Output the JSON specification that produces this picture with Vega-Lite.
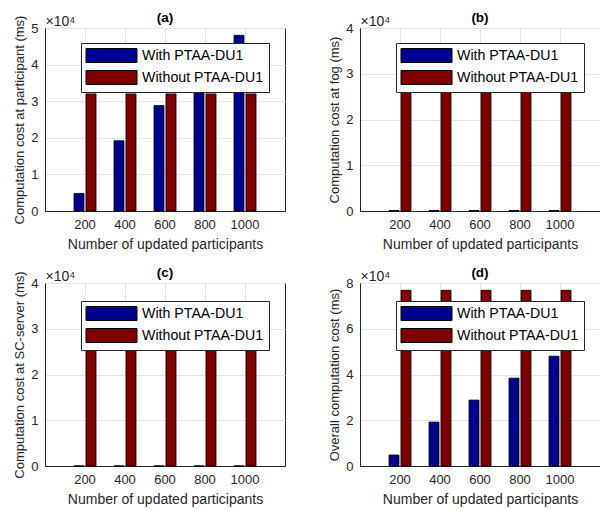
{
  "$schema": "https://vega.github.io/schema/vega-lite/v6.json",
  "padding": {"left": 13, "top": 10, "right": 0, "bottom": 0},
  "config": {
    "font": "Liberation Sans",
    "view": {"stroke": "#262626", "strokeWidth": 1},
    "axis": {
      "domainColor": "#262626",
      "labelColor": "#262626",
      "titleColor": "#262626",
      "labelFontSize": 13,
      "titleFontWeight": "normal",
      "ticks": false,
      "gridColor": "#e3e3e3",
      "gridWidth": 1
    },
    "axisX": {"titleFontSize": 14, "labelPadding": 7, "titlePadding": 6},
    "axisY": {"titleFontSize": 13, "labelPadding": 7, "titlePadding": 4},
    "legend": {
      "orient": "none",
      "legendX": 36,
      "legendY": 15,
      "direction": "vertical",
      "title": null,
      "strokeColor": "#262626",
      "fillColor": "#ffffff",
      "padding": 5,
      "symbolType": "M-3.643,-1H3.643V1H-3.643Z",
      "symbolSize": 196,
      "symbolOffset": 18,
      "symbolStrokeColor": "#000000",
      "symbolStrokeWidth": 1,
      "symbolOpacity": 1,
      "labelFontSize": 14.2,
      "labelColor": "#000000",
      "labelLimit": 0,
      "labelOffset": 23,
      "rowPadding": 3
    },
    "title": {"fontSize": 13.5, "fontWeight": "bold", "color": "#000000", "anchor": "middle", "frame": "group", "offset": -10}
  },
  "data": {
    "values": [
      {"panel": "a", "n": 200, "series": "With PTAA-DU1", "value": 4800},
      {"panel": "a", "n": 400, "series": "With PTAA-DU1", "value": 19200},
      {"panel": "a", "n": 600, "series": "With PTAA-DU1", "value": 28800},
      {"panel": "a", "n": 800, "series": "With PTAA-DU1", "value": 38400},
      {"panel": "a", "n": 1000, "series": "With PTAA-DU1", "value": 48000},
      {"panel": "a", "n": 200, "series": "Without PTAA-DU1", "value": 32000},
      {"panel": "a", "n": 400, "series": "Without PTAA-DU1", "value": 32000},
      {"panel": "a", "n": 600, "series": "Without PTAA-DU1", "value": 32000},
      {"panel": "a", "n": 800, "series": "Without PTAA-DU1", "value": 32000},
      {"panel": "a", "n": 1000, "series": "Without PTAA-DU1", "value": 32000},
      {"panel": "b", "n": 200, "series": "With PTAA-DU1", "value": 100},
      {"panel": "b", "n": 400, "series": "With PTAA-DU1", "value": 100},
      {"panel": "b", "n": 600, "series": "With PTAA-DU1", "value": 100},
      {"panel": "b", "n": 800, "series": "With PTAA-DU1", "value": 100},
      {"panel": "b", "n": 1000, "series": "With PTAA-DU1", "value": 100},
      {"panel": "b", "n": 200, "series": "Without PTAA-DU1", "value": 32000},
      {"panel": "b", "n": 400, "series": "Without PTAA-DU1", "value": 32000},
      {"panel": "b", "n": 600, "series": "Without PTAA-DU1", "value": 32000},
      {"panel": "b", "n": 800, "series": "Without PTAA-DU1", "value": 32000},
      {"panel": "b", "n": 1000, "series": "Without PTAA-DU1", "value": 32000},
      {"panel": "c", "n": 200, "series": "With PTAA-DU1", "value": 30},
      {"panel": "c", "n": 400, "series": "With PTAA-DU1", "value": 30},
      {"panel": "c", "n": 600, "series": "With PTAA-DU1", "value": 30},
      {"panel": "c", "n": 800, "series": "With PTAA-DU1", "value": 30},
      {"panel": "c", "n": 1000, "series": "With PTAA-DU1", "value": 30},
      {"panel": "c", "n": 200, "series": "Without PTAA-DU1", "value": 32000},
      {"panel": "c", "n": 400, "series": "Without PTAA-DU1", "value": 32000},
      {"panel": "c", "n": 600, "series": "Without PTAA-DU1", "value": 32000},
      {"panel": "c", "n": 800, "series": "Without PTAA-DU1", "value": 32000},
      {"panel": "c", "n": 1000, "series": "Without PTAA-DU1", "value": 32000},
      {"panel": "d", "n": 200, "series": "With PTAA-DU1", "value": 4800},
      {"panel": "d", "n": 400, "series": "With PTAA-DU1", "value": 19200},
      {"panel": "d", "n": 600, "series": "With PTAA-DU1", "value": 28800},
      {"panel": "d", "n": 800, "series": "With PTAA-DU1", "value": 38400},
      {"panel": "d", "n": 1000, "series": "With PTAA-DU1", "value": 48000},
      {"panel": "d", "n": 200, "series": "Without PTAA-DU1", "value": 76800},
      {"panel": "d", "n": 400, "series": "Without PTAA-DU1", "value": 76800},
      {"panel": "d", "n": 600, "series": "Without PTAA-DU1", "value": 76800},
      {"panel": "d", "n": 800, "series": "Without PTAA-DU1", "value": 76800},
      {"panel": "d", "n": 1000, "series": "Without PTAA-DU1", "value": 76800}
    ]
  },
  "columns": 2,
  "spacing": {"row": 72, "column": 75},
  "bounds": "flush",
  "resolve": {"scale": {"x": "independent", "y": "independent", "color": "independent"}, "legend": {"color": "independent"}},
  "concat": [
    {
      "width": 240, "height": 183,
      "title": "(a)",
      "transform": [{"filter": "datum.panel === 'a'"}],
      "layer": [
        {
          "mark": {"type": "bar", "stroke": "#000000", "strokeWidth": 0.8},
          "encoding": {
            "x": {"field": "n", "type": "ordinal", "scale": {"paddingInner": 0.45, "paddingOuter": 0.725}, "axis": {"orient": "bottom", "title": "Number of updated participants", "grid": true, "bandPosition": 0.5, "labelAngle": 0}},
            "xOffset": {"field": "series", "type": "nominal", "sort": ["With PTAA-DU1", "Without PTAA-DU1"], "scale": {"paddingInner": 0.1667, "paddingOuter": 0}},
            "y": {"field": "value", "type": "quantitative", "scale": {"domain": [0, 50000], "nice": false}, "axis": {"title": "Computation cost at participant (ms)", "values": [0, 10000, 20000, 30000, 40000, 50000], "labelExpr": "datum.value / 10000", "grid": true}},
            "color": {"field": "series", "type": "nominal", "scale": {"domain": ["With PTAA-DU1", "Without PTAA-DU1"], "range": ["#00008F", "#800000"]}}
          }
        },
        {
          "mark": {"type": "rule", "opacity": 0},
          "encoding": {
            "x": {"field": "n", "type": "ordinal", "axis": {"orient": "top", "title": "×10⁴", "titleFontSize": 14, "titleAnchor": "start", "titleAlign": "left", "titlePadding": 0, "labels": false, "domain": false, "grid": false}}
          }
        }
      ],
      "resolve": {"axis": {"x": "independent"}}
    },
    {
      "width": 240, "height": 183,
      "title": "(b)",
      "transform": [{"filter": "datum.panel === 'b'"}],
      "layer": [
        {
          "mark": {"type": "bar", "stroke": "#000000", "strokeWidth": 0.8},
          "encoding": {
            "x": {"field": "n", "type": "ordinal", "scale": {"paddingInner": 0.45, "paddingOuter": 0.725}, "axis": {"orient": "bottom", "title": "Number of updated participants", "grid": true, "bandPosition": 0.5, "labelAngle": 0}},
            "xOffset": {"field": "series", "type": "nominal", "sort": ["With PTAA-DU1", "Without PTAA-DU1"], "scale": {"paddingInner": 0.1667, "paddingOuter": 0}},
            "y": {"field": "value", "type": "quantitative", "scale": {"domain": [0, 40000], "nice": false}, "axis": {"title": "Computation cost at fog (ms)", "values": [0, 10000, 20000, 30000, 40000], "labelExpr": "datum.value / 10000", "grid": true}},
            "color": {"field": "series", "type": "nominal", "scale": {"domain": ["With PTAA-DU1", "Without PTAA-DU1"], "range": ["#00008F", "#800000"]}}
          }
        },
        {
          "mark": {"type": "rule", "opacity": 0},
          "encoding": {
            "x": {"field": "n", "type": "ordinal", "axis": {"orient": "top", "title": "×10⁴", "titleFontSize": 14, "titleAnchor": "start", "titleAlign": "left", "titlePadding": 0, "labels": false, "domain": false, "grid": false}}
          }
        }
      ],
      "resolve": {"axis": {"x": "independent"}}
    },
    {
      "width": 240, "height": 183,
      "title": "(c)",
      "transform": [{"filter": "datum.panel === 'c'"}],
      "layer": [
        {
          "mark": {"type": "bar", "stroke": "#000000", "strokeWidth": 0.8},
          "encoding": {
            "x": {"field": "n", "type": "ordinal", "scale": {"paddingInner": 0.45, "paddingOuter": 0.725}, "axis": {"orient": "bottom", "title": "Number of updated participants", "grid": true, "bandPosition": 0.5, "labelAngle": 0}},
            "xOffset": {"field": "series", "type": "nominal", "sort": ["With PTAA-DU1", "Without PTAA-DU1"], "scale": {"paddingInner": 0.1667, "paddingOuter": 0}},
            "y": {"field": "value", "type": "quantitative", "scale": {"domain": [0, 40000], "nice": false}, "axis": {"title": "Computation cost at SC-server (ms)", "values": [0, 10000, 20000, 30000, 40000], "labelExpr": "datum.value / 10000", "grid": true}},
            "color": {"field": "series", "type": "nominal", "scale": {"domain": ["With PTAA-DU1", "Without PTAA-DU1"], "range": ["#00008F", "#800000"]}, "legend": {"legendY": 18}}
          }
        },
        {
          "mark": {"type": "rule", "opacity": 0},
          "encoding": {
            "x": {"field": "n", "type": "ordinal", "axis": {"orient": "top", "title": "×10⁴", "titleFontSize": 14, "titleAnchor": "start", "titleAlign": "left", "titlePadding": 0, "labels": false, "domain": false, "grid": false}}
          }
        }
      ],
      "resolve": {"axis": {"x": "independent"}}
    },
    {
      "width": 240, "height": 183,
      "title": "(d)",
      "transform": [{"filter": "datum.panel === 'd'"}],
      "layer": [
        {
          "mark": {"type": "bar", "stroke": "#000000", "strokeWidth": 0.8},
          "encoding": {
            "x": {"field": "n", "type": "ordinal", "scale": {"paddingInner": 0.45, "paddingOuter": 0.725}, "axis": {"orient": "bottom", "title": "Number of updated participants", "grid": true, "bandPosition": 0.5, "labelAngle": 0}},
            "xOffset": {"field": "series", "type": "nominal", "sort": ["With PTAA-DU1", "Without PTAA-DU1"], "scale": {"paddingInner": 0.1667, "paddingOuter": 0}},
            "y": {"field": "value", "type": "quantitative", "scale": {"domain": [0, 80000], "nice": false}, "axis": {"title": "Overall computation cost (ms)", "values": [0, 20000, 40000, 60000, 80000], "labelExpr": "datum.value / 10000", "grid": true}},
            "color": {"field": "series", "type": "nominal", "scale": {"domain": ["With PTAA-DU1", "Without PTAA-DU1"], "range": ["#00008F", "#800000"]}, "legend": {"legendY": 18}}
          }
        },
        {
          "mark": {"type": "rule", "opacity": 0},
          "encoding": {
            "x": {"field": "n", "type": "ordinal", "axis": {"orient": "top", "title": "×10⁴", "titleFontSize": 14, "titleAnchor": "start", "titleAlign": "left", "titlePadding": 0, "labels": false, "domain": false, "grid": false}}
          }
        }
      ],
      "resolve": {"axis": {"x": "independent"}}
    }
  ]
}
